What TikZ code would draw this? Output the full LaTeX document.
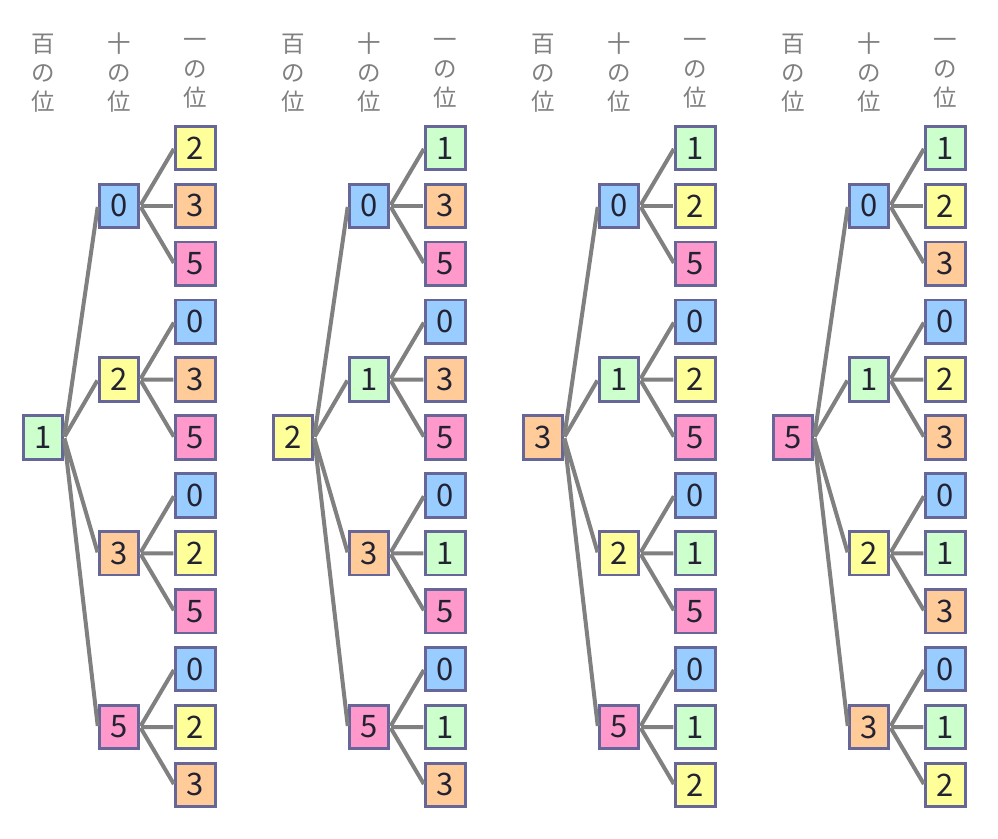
\documentclass[tikz,border=0pt]{standalone}
\usepackage{fontspec}
\setmainfont{Liberation Sans}
\newfontfamily\jpfont{Noto Sans CJK JP}
\usetikzlibrary{positioning}
\definecolor{c0}{HTML}{99CCFF}
\definecolor{c1}{HTML}{CCFFCC}
\definecolor{c2}{HTML}{FFFF99}
\definecolor{c3}{HTML}{FFCC99}
\definecolor{c5}{HTML}{FF99CC}
\definecolor{waku}{HTML}{666699}
\definecolor{hai}{HTML}{808080}
\definecolor{moji}{HTML}{222233}

\begin{document}
\begin{tikzpicture}[x=1pt, y=-1pt,
    kazu/.style={draw=waku, line width=2.8pt, minimum width=39.5pt, minimum height=43.5pt, inner sep=0pt, text=moji, font=\jpfont\fontsize{31}{31}\selectfont},
    eda/.style={draw=hai, line width=4pt, shorten <=1pt, shorten >=1pt},
    midashi/.style={align=center, text=hai, font=\jpfont\fontsize{23.5}{29}\selectfont}]
    \fill[white] (0,0) rectangle (998,838);
    \useasboundingbox (0,0) rectangle (998,838);
    % 見出し
    \foreach \t in {0,1,2,3} {
        \node[midashi] (hH\t) at ({43+250*\t},73) {百\\の\\位};
        \node[midashi] (hT\t) at ({119+250*\t},73) {十\\の\\位};
        \node[midashi] (hO\t) at ({195.5+250*\t},73) {一\\の\\位};
    }
    % 百の位 = 1
    \node[kazu, fill=c1] (A) at (43,437.5) {1};
    \foreach \j/\n/\p/\q/\s in {0/0/2/3/5, 1/2/0/3/5, 2/3/0/2/5, 3/5/0/2/3} {
        \node[kazu, fill=c\n] (A\j) at (119,{205.9+173.7*\j}) {\n};
        \draw[eda] (A.east) -- (A\j.west);
        \foreach \k/\o in {0/\p, 1/\q, 2/\s} {
            \node[kazu, fill=c\o] (A\j\k) at (195.5,{148+57.9*(3*\j+\k)}) {\o};
            \draw[eda] (A\j.east) -- (A\j\k.west);
        }
    }
    % 百の位 = 2
    \node[kazu, fill=c2] (B) at (293,437.5) {2};
    \foreach \j/\n/\p/\q/\s in {0/0/1/3/5, 1/1/0/3/5, 2/3/0/1/5, 3/5/0/1/3} {
        \node[kazu, fill=c\n] (B\j) at (369,{205.9+173.7*\j}) {\n};
        \draw[eda] (B.east) -- (B\j.west);
        \foreach \k/\o in {0/\p, 1/\q, 2/\s} {
            \node[kazu, fill=c\o] (B\j\k) at (445.5,{148+57.9*(3*\j+\k)}) {\o};
            \draw[eda] (B\j.east) -- (B\j\k.west);
        }
    }
    % 百の位 = 3
    \node[kazu, fill=c3] (C) at (543,437.5) {3};
    \foreach \j/\n/\p/\q/\s in {0/0/1/2/5, 1/1/0/2/5, 2/2/0/1/5, 3/5/0/1/2} {
        \node[kazu, fill=c\n] (C\j) at (619,{205.9+173.7*\j}) {\n};
        \draw[eda] (C.east) -- (C\j.west);
        \foreach \k/\o in {0/\p, 1/\q, 2/\s} {
            \node[kazu, fill=c\o] (C\j\k) at (695.5,{148+57.9*(3*\j+\k)}) {\o};
            \draw[eda] (C\j.east) -- (C\j\k.west);
        }
    }
    % 百の位 = 5
    \node[kazu, fill=c5] (D) at (793,437.5) {5};
    \foreach \j/\n/\p/\q/\s in {0/0/1/2/3, 1/1/0/2/3, 2/2/0/1/3, 3/3/0/1/2} {
        \node[kazu, fill=c\n] (D\j) at (869,{205.9+173.7*\j}) {\n};
        \draw[eda] (D.east) -- (D\j.west);
        \foreach \k/\o in {0/\p, 1/\q, 2/\s} {
            \node[kazu, fill=c\o] (D\j\k) at (945.5,{148+57.9*(3*\j+\k)}) {\o};
            \draw[eda] (D\j.east) -- (D\j\k.west);
        }
    }
\end{tikzpicture}
\end{document}
